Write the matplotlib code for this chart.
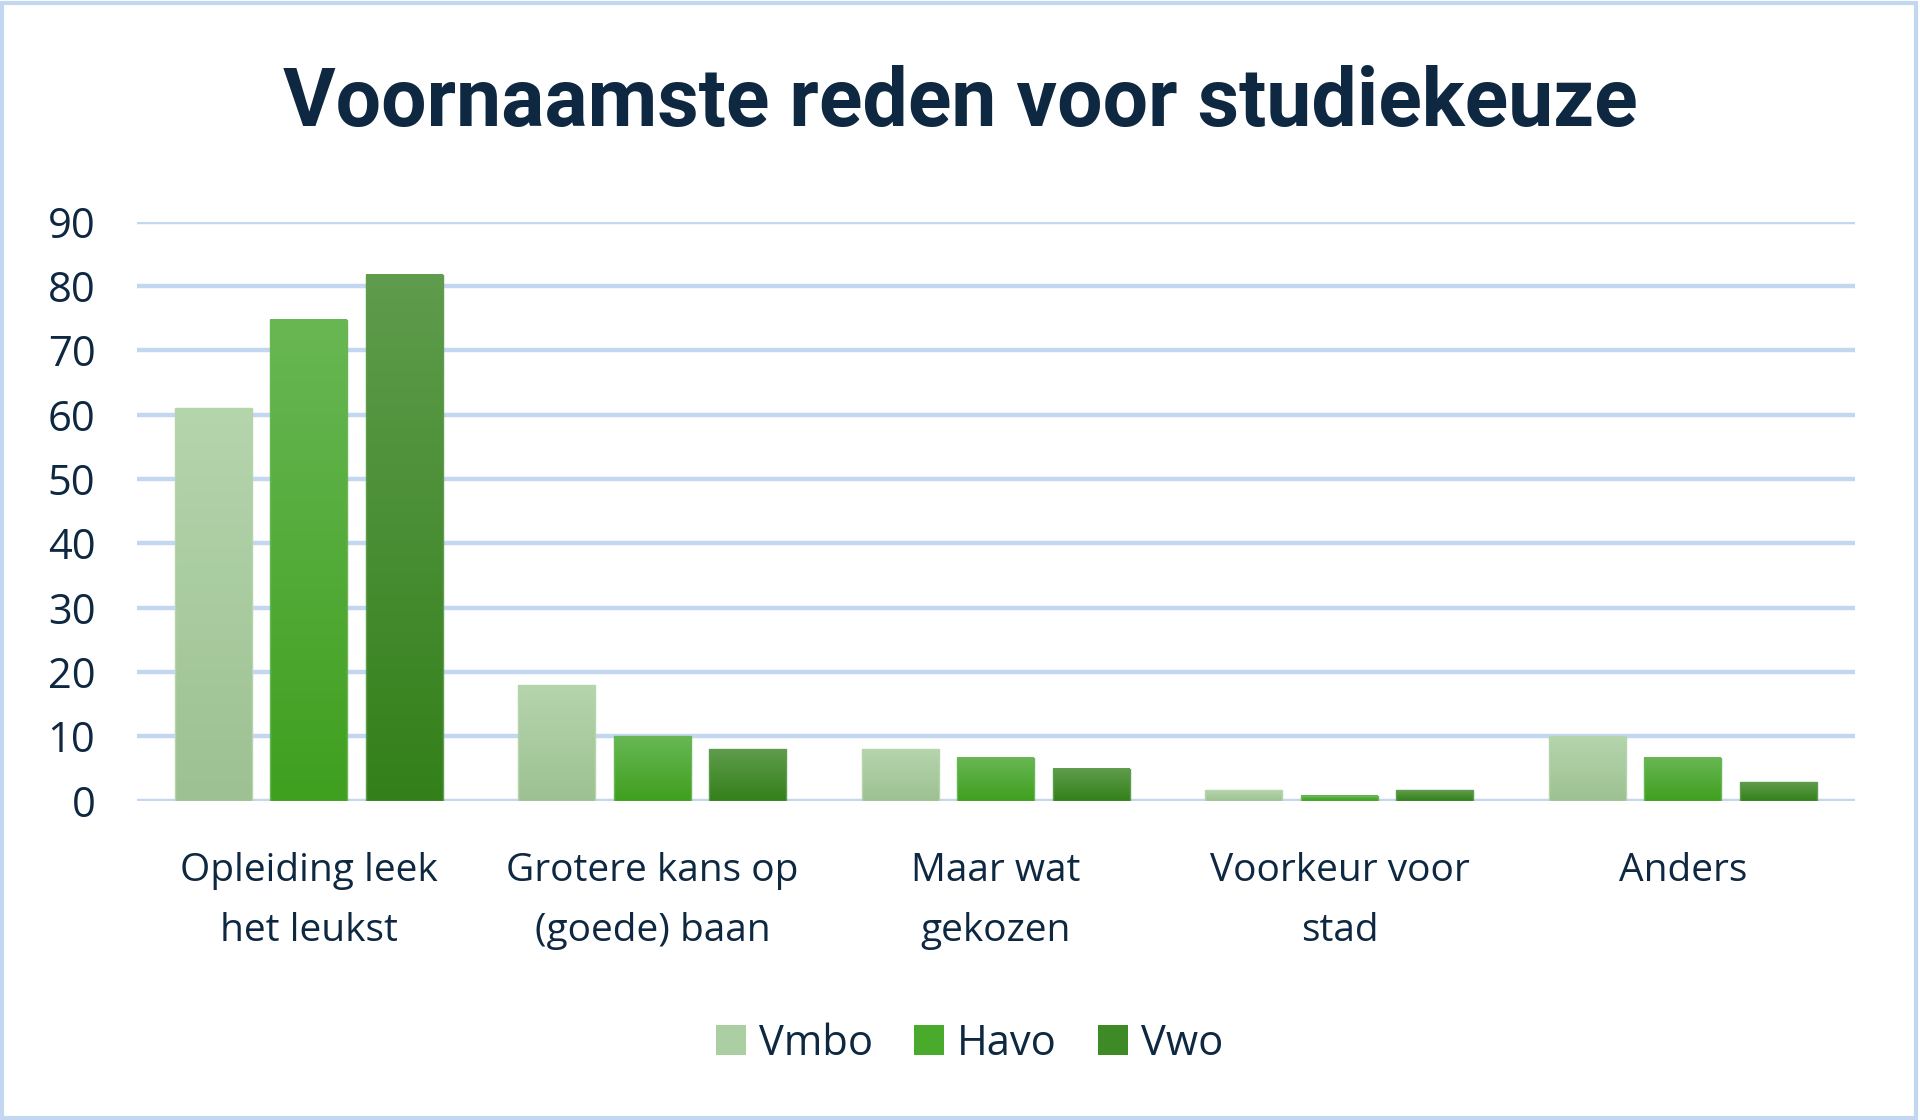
import numpy as np
import matplotlib
matplotlib.use('Agg')
import matplotlib.pyplot as plt
from matplotlib.colors import LinearSegmentedColormap
from matplotlib.patches import Patch, Rectangle

# data
categories = ['Opleiding leek\nhet leukst', 'Grotere kans op\n(goede) baan',
              'Maar wat\ngekozen', 'Voorkeur voor\nstad', 'Anders']
vmbo = [61, 18, 8, 1.7, 10]
havo = [74.8, 10, 6.7, 0.8, 6.7]
vwo  = [81.8, 8, 5, 1.7, 2.9]
series_names = ['Vmbo', 'Havo', 'Vwo']
yticks = [0, 10, 20, 30, 40, 50, 60, 70, 80, 90]

# (bottom colour, top colour, legend colour)
shades = [('#9dc192', '#b5d5ad', '#abcfa2'),
          ('#3f9f1e', '#68b754', '#4aaa2c'),
          ('#33801a', '#5f9c4d', '#3e8a26')]

text_col = '#0e2841'
grid_col = '#c3d7f0'

plt.rcParams['font.family'] = ['Open Sans', 'DejaVu Sans']

fig = plt.figure(figsize=(19.2, 11.2), dpi=100)
ax = fig.add_axes([0.0714, 0.285, 0.8946, 0.517])

x = np.arange(len(categories))
width = 0.224
step = 0.278
grad = np.linspace(0, 1, 256).reshape(-1, 1)

for i, vals in enumerate([vmbo, havo, vwo]):
    lo, hi, _ = shades[i]
    cmap = LinearSegmentedColormap.from_list('g%d' % i, [lo, hi])
    bars = ax.bar(x + (i - 1) * step, vals, width, color='none',
                  edgecolor=hi, linewidth=1, zorder=3)
    for b in bars:
        x0, y0 = b.get_xy()
        ax.imshow(grad, extent=[x0, x0 + b.get_width(), y0, y0 + b.get_height()],
                  origin='lower', aspect='auto', cmap=cmap, zorder=2.5)

ax.set_xlim(-0.5, len(categories) - 0.5)
ax.set_ylim(0, 90)
ax.set_yticks(yticks)
ax.set_xticks(x)
ax.set_xticklabels(categories, linespacing=1.75)
ax.set_axisbelow(True)
ax.yaxis.grid(True, color=grid_col, linewidth=3.2)
ax.xaxis.grid(False)
for s in ax.spines.values():
    s.set_visible(False)
ax.tick_params(axis='y', length=0, pad=30, labelsize=30, labelcolor=text_col)
ax.tick_params(axis='x', length=0, pad=37, labelsize=28, labelcolor=text_col)

fig.text(0.5, 0.907, 'Voornaamste reden voor studiekeuze', ha='center', va='center',
         fontsize=58, fontweight='bold', color=text_col,
         family=['Roboto', 'DejaVu Sans'])

handles = [Patch(facecolor=shades[i][2], edgecolor='none') for i in range(3)]
fig.legend(handles, series_names, loc='center', bbox_to_anchor=(0.505, 0.068),
           ncol=3, frameon=False, fontsize=30, labelcolor=text_col,
           handlelength=0.72, handleheight=0.72, handletextpad=0.3,
           columnspacing=1.0)

# light blue frame around the chart area
fig.patches.append(Rectangle((0.001, 0.002), 0.997, 0.995, transform=fig.transFigure,
                             fill=False, edgecolor=grid_col, linewidth=3))

fig.savefig('out.png', dpi=100, facecolor='white')
